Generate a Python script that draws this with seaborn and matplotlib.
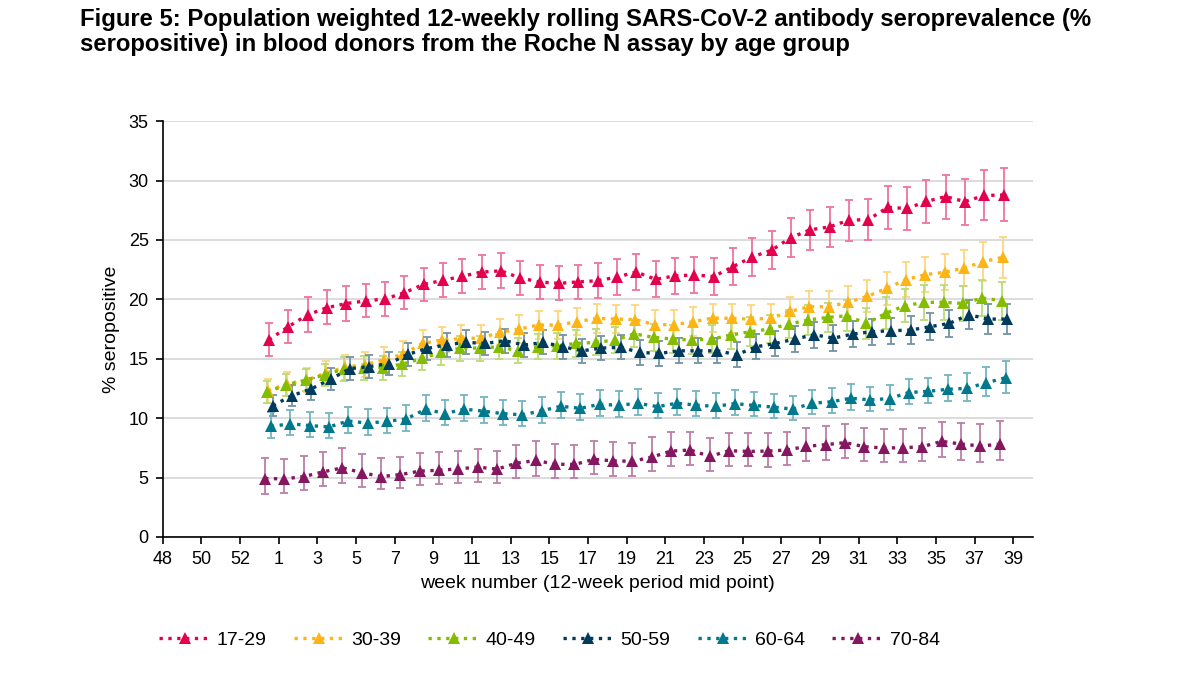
import matplotlib
matplotlib.use("Agg")
import matplotlib.pyplot as plt
from matplotlib.colors import to_rgb
from matplotlib.lines import Line2D
import numpy as np
import pandas as pd
import seaborn as sns

# week tick labels: 2020 wk48..wk53, then 2021 wk1..wk39
weeks = [48, 49, 50, 51, 52, 53] + list(range(1, 40))
n_points = 39
first_pos = 5.5  # first 12-week period mid point sits between wk53 and wk1

groups = ["17-29", "30-39", "40-49", "50-59", "60-64", "70-84"]

val_17_29 = [16.6, 17.7, 18.7, 19.3, 19.65, 19.87, 20.03, 20.56, 21.26, 21.6, 21.95, 22.3, 22.4,
             21.8, 21.46, 21.35, 21.47, 21.57, 21.88, 22.3, 21.69, 21.97, 22.06, 21.92, 22.75, 23.57,
             24.14, 25.2, 25.86, 26.1, 26.67, 26.71, 27.74, 27.65, 28.24, 28.65, 28.23, 28.75, 28.78]
hi_17_29 = [17.98, 19.1, 20.17, 20.79, 21.1, 21.26, 21.43, 21.97, 22.67, 23.03, 23.37, 23.76, 23.88,
            23.26, 22.89, 22.78, 22.92, 23.03, 23.37, 23.82, 23.2, 23.48, 23.57, 23.46, 24.33, 25.14,
            25.76, 26.88, 27.53, 27.81, 28.4, 28.46, 29.52, 29.44, 30.03, 30.51, 30.17, 30.93, 31.04]
lo_17_29 = [15.2, 16.29, 17.28, 17.89, 18.2, 18.48, 18.62, 19.16, 19.86, 20.17, 20.53, 20.87, 20.96,
            20.37, 20.03, 19.92, 20.03, 20.11, 20.39, 20.79, 20.17, 20.45, 20.56, 20.39, 21.18, 21.99,
            22.53, 23.57, 24.19, 24.38, 24.94, 24.97, 25.96, 25.87, 26.46, 26.8, 26.29, 26.69, 26.57]

val_30_39 = [12.3, 12.9, 13.2, 13.8, 14.3, 14.5, 14.9, 15.4, 16.29, 16.57, 16.71, 16.74, 17.22,
             17.5, 17.84, 17.84, 18.12, 18.4, 18.34, 18.3, 17.87, 17.87, 18.12, 18.43, 18.4, 18.34,
             18.4, 18.99, 19.38, 19.38, 19.75, 20.25, 20.93, 21.66, 22.08, 22.28, 22.64, 23.17, 23.54]
hw_30_39 = [1.0, 1.0, 1.0, 1.0, 1.05, 1.05, 1.05, 1.1, 1.1, 1.1, 1.1, 1.1, 1.1,
            1.15, 1.15, 1.15, 1.15, 1.2, 1.2, 1.2, 1.2, 1.2, 1.2, 1.2, 1.2, 1.2,
            1.2, 1.25, 1.3, 1.3, 1.35, 1.35, 1.4, 1.45, 1.5, 1.5, 1.55, 1.65, 1.7]

val_40_49 = [12.2, 12.8, 13.2, 13.65, 14.15, 14.25, 14.25, 14.55, 15.03, 15.53, 15.9, 15.9, 16.01,
             15.67, 16.01, 16.1, 16.29, 16.38, 16.57, 17.1, 16.8, 16.66, 16.57, 16.66, 17.0, 17.28,
             17.5, 17.92, 18.26, 18.48, 18.62, 17.98, 18.82, 19.47, 19.75, 19.75, 19.66, 20.11, 19.89]
hw_40_49 = [0.95, 0.95, 0.95, 0.95, 1.0, 1.0, 1.0, 1.0, 1.0, 1.05, 1.05, 1.05, 1.05,
            1.05, 1.05, 1.1, 1.1, 1.1, 1.1, 1.15, 1.15, 1.15, 1.15, 1.15, 1.15, 1.2,
            1.2, 1.2, 1.25, 1.25, 1.3, 1.3, 1.35, 1.4, 1.45, 1.45, 1.5, 1.55, 1.6]

val_50_59 = [11.06, 11.9, 12.47, 13.3, 14.17, 14.34, 14.6, 15.38, 15.87, 16.18, 16.38, 16.29, 16.52,
             16.15, 16.38, 16.01, 15.67, 15.9, 15.96, 15.53, 15.45, 15.67, 15.67, 15.67, 15.34, 16.01,
             16.29, 16.66, 17.02, 16.74, 17.08, 17.28, 17.36, 17.42, 17.7, 17.98, 18.71, 18.34, 18.34]
hw_50_59 = [0.9, 0.9, 0.9, 0.9, 0.95, 0.95, 0.95, 0.95, 1.0, 1.0, 1.0, 1.0, 1.0,
            1.0, 1.0, 1.0, 1.0, 1.0, 1.0, 1.05, 1.05, 1.05, 1.05, 1.05, 1.05, 1.05,
            1.05, 1.1, 1.1, 1.1, 1.1, 1.1, 1.1, 1.15, 1.15, 1.15, 1.2, 1.25, 1.25]

val_60_64 = [9.3, 9.53, 9.38, 9.26, 9.76, 9.58, 9.73, 9.93, 10.75, 10.39, 10.76, 10.59, 10.38,
             10.28, 10.62, 11.0, 10.83, 11.16, 11.09, 11.25, 10.97, 11.26, 11.1, 10.99, 11.23, 11.07,
             10.93, 10.76, 11.26, 11.38, 11.68, 11.54, 11.65, 12.16, 12.26, 12.43, 12.51, 12.98, 13.4]
hi_60_64 = [10.51, 10.71, 10.54, 10.42, 10.93, 10.73, 10.88, 11.13, 11.98, 11.55, 11.98, 11.78, 11.53,
            11.44, 11.81, 12.2, 12.03, 12.37, 12.29, 12.45, 12.15, 12.43, 12.26, 12.15, 12.4, 12.2,
            12.03, 11.86, 12.4, 12.51, 12.85, 12.66, 12.8, 13.31, 13.42, 13.62, 13.79, 14.32, 14.83]
lo_60_64 = [8.31, 8.56, 8.42, 8.31, 8.79, 8.62, 8.79, 8.93, 9.72, 9.44, 9.75, 9.6, 9.44,
            9.32, 9.63, 10.0, 9.83, 10.14, 10.08, 10.27, 10.0, 10.28, 10.14, 10.03, 10.25, 10.14,
            10.03, 9.86, 10.31, 10.45, 10.71, 10.62, 10.71, 11.21, 11.3, 11.44, 11.44, 11.84, 12.16]

val_70_84 = [4.92, 4.89, 5.08, 5.48, 5.82, 5.42, 5.08, 5.25, 5.54, 5.62, 5.73, 5.88, 5.71,
             6.21, 6.44, 6.13, 6.1, 6.53, 6.41, 6.37, 6.72, 7.23, 7.32, 6.78, 7.26, 7.2,
             7.23, 7.32, 7.63, 7.77, 7.94, 7.6, 7.49, 7.51, 7.6, 8.05, 7.82, 7.66, 7.8]
hi_70_84 = [6.67, 6.58, 6.81, 7.15, 7.49, 6.98, 6.61, 6.75, 7.06, 7.18, 7.26, 7.37, 7.26,
            7.77, 8.05, 7.8, 7.74, 8.11, 7.97, 7.95, 8.42, 8.81, 8.87, 8.31, 8.79, 8.73,
            8.73, 8.87, 9.15, 9.35, 9.55, 9.18, 9.12, 9.12, 9.18, 9.66, 9.58, 9.49, 9.72]
lo_70_84 = [3.64, 3.7, 3.93, 4.27, 4.55, 4.24, 4.01, 4.12, 4.38, 4.44, 4.55, 4.66, 4.58,
            5.0, 5.11, 4.94, 5.0, 5.28, 5.17, 5.1, 5.54, 5.96, 6.05, 5.56, 5.99, 5.96,
            5.93, 6.05, 6.36, 6.47, 6.67, 6.36, 6.27, 6.33, 6.41, 6.75, 6.5, 6.3, 6.47]

palette = {
    "17-29": "#E2004F",
    "30-39": "#FDB515",
    "40-49": "#84BD00",
    "50-59": "#003A5D",
    "60-64": "#00798C",
    "70-84": "#84175F",
}
# small horizontal dodge so the error bars don't sit on top of each other
dodge = {"17-29": 0.0, "30-39": -0.05, "40-49": -0.1, "50-59": 0.2, "60-64": 0.1, "70-84": -0.2}

series = {
    "17-29": (val_17_29, lo_17_29, hi_17_29),
    "30-39": (val_30_39, [v - h for v, h in zip(val_30_39, hw_30_39)], [v + h for v, h in zip(val_30_39, hw_30_39)]),
    "40-49": (val_40_49, [v - h for v, h in zip(val_40_49, hw_40_49)], [v + h for v, h in zip(val_40_49, hw_40_49)]),
    "50-59": (val_50_59, [v - h for v, h in zip(val_50_59, hw_50_59)], [v + h for v, h in zip(val_50_59, hw_50_59)]),
    "60-64": (val_60_64, lo_60_64, hi_60_64),
    "70-84": (val_70_84, lo_70_84, hi_70_84),
}

rows = []
for g in groups:
    vals, lo, hi = series[g]
    for i in range(n_points):
        rows.append({"group": g, "pos": first_pos + i + dodge[g], "value": vals[i], "lo": lo[i], "hi": hi[i]})
df = pd.DataFrame(rows)


def tint(color, amount=0.45):
    r, g, b = to_rgb(color)
    return (r + (1 - r) * amount, g + (1 - g) * amount, b + (1 - b) * amount)


sns.set_theme(style="white")
plt.rcParams["font.family"] = ["Liberation Sans", "DejaVu Sans"]
plt.rcParams["text.color"] = "black"
plt.rcParams["axes.labelcolor"] = "black"

fig = plt.figure(figsize=(12, 6.75), dpi=100)
ax = fig.add_axes([0.1355, 0.2045, 0.725, 0.616])

for g in groups:
    sub = df[df["group"] == g]
    ax.errorbar(sub["pos"], sub["value"],
                yerr=[sub["value"] - sub["lo"], sub["hi"] - sub["value"]],
                fmt="none", ecolor=tint(palette[g]), elinewidth=1.3, capsize=3.2, capthick=1.3, zorder=2)
    sns.lineplot(data=sub, x="pos", y="value", color=palette[g], linestyle=":", linewidth=2.4,
                 marker="^", markersize=8.5, markeredgewidth=0, ax=ax, legend=False, zorder=3)

ax.set_xlim(0, 45)
ax.set_ylim(0, 35)
ax.set_yticks(range(0, 36, 5))
ax.set_xticks(range(0, len(weeks), 2))
ax.set_xticklabels([str(w) for w in weeks[::2]])
ax.yaxis.grid(True, color="#D9D9D9", linewidth=1.3)
ax.set_axisbelow(True)

for side in ["top", "right"]:
    ax.spines[side].set_visible(False)
for side in ["left", "bottom"]:
    ax.spines[side].set_color("black")
    ax.spines[side].set_linewidth(1.2)

ax.tick_params(axis="both", which="major", direction="out", length=5, width=1.2,
               color="black", labelsize=13, labelcolor="black", left=True, bottom=True, pad=5)
ax.set_xlabel("week number (12-week period mid point)", fontsize=14, labelpad=5)
ax.set_ylabel("% seropositive", fontsize=14, labelpad=6)

handles = [Line2D([0], [0], color=palette[g], linestyle=":", linewidth=2.4, marker="^",
                  markersize=8.5, markeredgewidth=0) for g in groups]
fig.legend(handles, groups, loc="center", bbox_to_anchor=(0.458, 0.052), ncol=6, frameon=False,
           fontsize=14, handlelength=2.6, handletextpad=0.35, columnspacing=1.4)

fig.text(0.067, 0.988, "Figure 5: Population weighted 12-weekly rolling SARS-CoV-2 antibody seroprevalence (%\n"
         "seropositive) in blood donors from the Roche N assay by age group",
         fontsize=17.2, fontweight="bold", ha="left", va="top", linespacing=1.08)

fig.savefig("out.png", dpi=100)
